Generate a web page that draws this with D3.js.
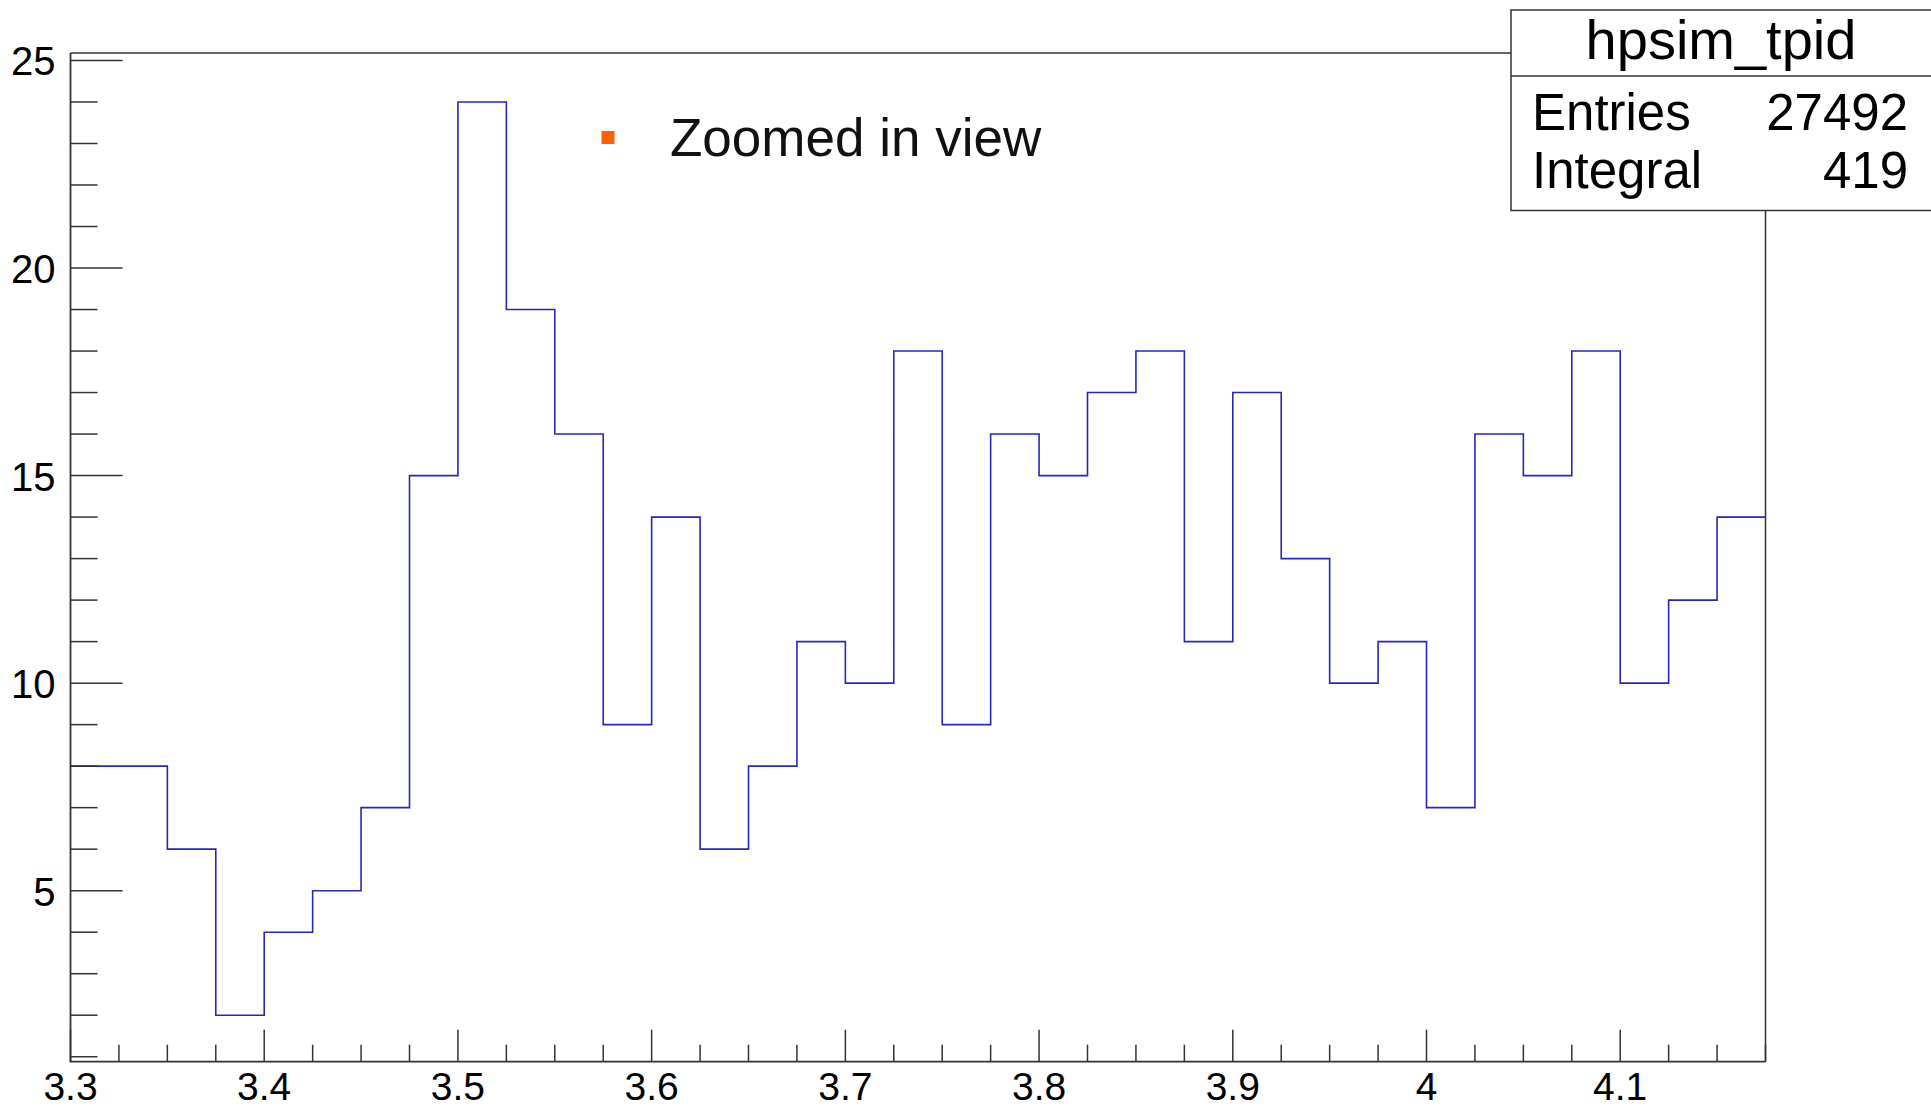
<!DOCTYPE html>
<html>
<head>
<meta charset="utf-8">
<script src="https://cdn.jsdelivr.net/npm/d3@7"></script>
<style>
  body { margin: 0; background: #fff; }
  text { font-family: "Liberation Sans", Arial, Helvetica, sans-serif; fill: #000; }
</style>
</head>
<body>
<div id="wrapper"></div>
<script>
// bins of width 0.025 starting at 3.3
const binStart = 3.3;
const binWidth = 0.025;
const counts = [8, 8, 6, 2, 4, 5, 7, 15, 24, 19, 16, 9, 14, 6, 8, 11, 10, 18,
                9, 16, 15, 17, 18, 11, 17, 13, 10, 11, 7, 16, 15, 18, 10, 12, 14];
const xTickValues = [3.3, 3.4, 3.5, 3.6, 3.7, 3.8, 3.9, 4.0, 4.1];
const yTickValues = [5, 10, 15, 20, 25];
const statsTitle = "hpsim_tpid";
const statsLabels = ["Entries", "Integral"];
const statsValues = ["27492", "419"];
const legendLabel = "Zoomed in view";

function drawHist() {
  // 1. Dimensions
  const dimensions = {
    width: 1931,
    height: 1108,
    margin: { top: 53, right: 165.5, bottom: 46.3, left: 70.5 },
  };
  dimensions.boundedWidth = dimensions.width - dimensions.margin.left - dimensions.margin.right;
  dimensions.boundedHeight = dimensions.height - dimensions.margin.top - dimensions.margin.bottom;

  const svg = d3.select("#wrapper").append("svg")
      .attr("width", dimensions.width)
      .attr("height", dimensions.height);

  svg.append("rect")
      .attr("width", dimensions.width).attr("height", dimensions.height)
      .attr("fill", "#fff");

  const bounds = svg.append("g")
      .attr("transform", `translate(${dimensions.margin.left}, ${dimensions.margin.top})`);

  // 2. Scales
  const xMax = binStart + counts.length * binWidth;
  const xScale = d3.scaleLinear()
      .domain([binStart, xMax])
      .range([0, dimensions.boundedWidth]);

  const yScale = d3.scaleLinear()
      .domain([0.88, 25.18])
      .range([dimensions.boundedHeight, 0]);

  const axisColor = "#333";

  // 3. Frame (top + right)
  bounds.append("path")
      .attr("d", `M0,0 H${dimensions.boundedWidth} V${dimensions.boundedHeight}`)
      .attr("fill", "none")
      .attr("stroke", axisColor)
      .attr("stroke-width", 1.5);

  // 4. Histogram line
  const pts = [];
  counts.forEach((c, i) => {
    const x0 = binStart + i * binWidth;
    pts.push([x0, c], [x0 + binWidth, c]);
  });
  const line = d3.line()
      .x(d => xScale(d[0]))
      .y(d => yScale(d[1]));

  bounds.append("path")
      .datum(pts)
      .attr("d", line)
      .attr("fill", "none")
      .attr("stroke", "#2626bd")
      .attr("stroke-width", 1.6);

  // 5. Axes (ROOT style: ticks inside)
  const yMinor = d3.range(1, 26);
  bounds.append("g")
      .selectAll("line")
      .data(yMinor)
      .join("line")
        .attr("x1", 0)
        .attr("x2", d => d % 5 === 0 ? 52 : 27)
        .attr("y1", d => yScale(d))
        .attr("y2", d => yScale(d))
        .attr("stroke", axisColor)
        .attr("stroke-width", 1.5);

  bounds.append("g")
      .selectAll("text")
      .data(yTickValues)
      .join("text")
        .attr("x", -15)
        .attr("y", d => yScale(d) + 15)
        .attr("text-anchor", "end")
        .attr("font-size", 40)
        .text(d => d);

  const xMinor = d3.range(0, counts.length + 1).map(i => binStart + i * binWidth);
  bounds.append("g")
      .selectAll("line")
      .data(xMinor)
      .join("line")
        .attr("x1", d => xScale(d))
        .attr("x2", d => xScale(d))
        .attr("y1", dimensions.boundedHeight)
        .attr("y2", (d, i) => dimensions.boundedHeight - (i % 4 === 0 ? 32 : 17))
        .attr("stroke", axisColor)
        .attr("stroke-width", 1.5);

  bounds.append("g")
      .selectAll("text")
      .data(xTickValues)
      .join("text")
        .attr("x", d => xScale(d))
        .attr("y", dimensions.boundedHeight + 38)
        .attr("text-anchor", "middle")
        .attr("font-size", 39)
        .text(d => d3.format("~g")(d));

  // axis lines on top
  bounds.append("path")
      .attr("d", `M0,0 V${dimensions.boundedHeight} H${dimensions.boundedWidth}`)
      .attr("fill", "none")
      .attr("stroke", axisColor)
      .attr("stroke-width", 1.8);

  // 6. Legend
  const legend = svg.append("g").attr("transform", "translate(608, 137.5)");
  legend.append("rect")
      .attr("x", -6.5).attr("y", -6.5)
      .attr("width", 13).attr("height", 13)
      .attr("fill", "#ff6000");
  legend.append("text")
      .attr("x", 62)
      .attr("y", 18.5)
      .attr("font-size", 53)
      .style("fill", "#111")
      .text(legendLabel);

  // 7. Stats box
  const stats = svg.append("g").attr("transform", "translate(1511, 10)");
  stats.append("rect")
      .attr("width", 440).attr("height", 200.5)
      .attr("fill", "#fff")
      .attr("stroke", axisColor)
      .attr("stroke-width", 1.5);
  stats.append("line")
      .attr("x1", 0).attr("x2", 440)
      .attr("y1", 66).attr("y2", 66)
      .attr("stroke", axisColor)
      .attr("stroke-width", 1.5);
  stats.append("text")
      .attr("x", 210)
      .attr("y", 49)
      .attr("text-anchor", "middle")
      .attr("font-size", 56)
      .text(statsTitle);
  stats.selectAll(".stat-label")
    .data(statsLabels)
    .join("text")
      .attr("class", "stat-label")
      .attr("x", 21)
      .attr("y", (d, i) => 120 + i * 58.3)
      .attr("font-size", 51)
      .text(d => d);
  stats.selectAll(".stat-value")
    .data(statsValues)
    .join("text")
      .attr("class", "stat-value")
      .attr("x", 397)
      .attr("y", (d, i) => 120 + i * 58.3)
      .attr("text-anchor", "end")
      .attr("font-size", 51)
      .text(d => d);
}
drawHist();
</script>
</body>
</html>
